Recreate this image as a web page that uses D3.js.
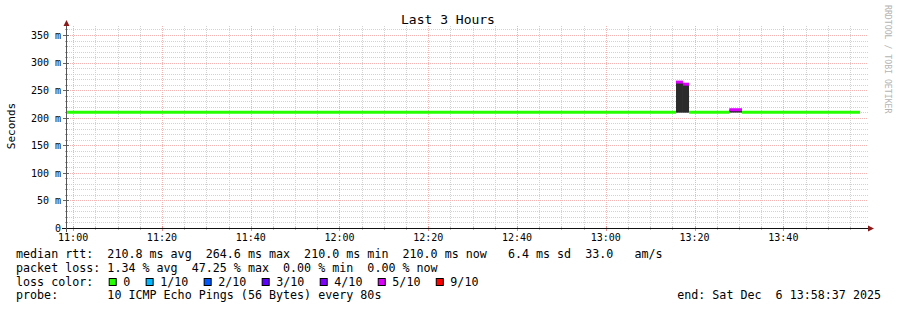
<!DOCTYPE html>
<html><head><meta charset="utf-8">
<script src="https://cdn.jsdelivr.net/npm/d3@7/dist/d3.min.js"></script>
<style>
html,body{margin:0;padding:0;background:#fff;}
svg{display:block;}
text{font-family:"DejaVu Sans Mono",monospace;white-space:pre;}
</style></head>
<body>
<script>
// ---- data ----
const title = "Last 3 Hours";
const yLabel = "Seconds";
const startTime = "2025-12-06T10:58:37";
const endTime = "2025-12-06T13:58:37";
const stepStart = ["10:58:37", "13:15:49", "13:17:23", "13:18:45", "13:27:49", "13:30:41"];
const stepEnd   = ["13:15:49", "13:17:23", "13:18:45", "13:27:49", "13:30:41", "13:57:16"];
const medianRtt = [210.0, 264.6, 260.8, 210.0, 214.5, 210.0];   // ms
const minRtt    = [210.0, 209.1, 209.1, 210.0, 209.3, 210.0];   // ms
const lossTenths = [0, 5, 5, 0, 5, 0];
const yTickValues = [0, 50, 100, 150, 200, 250, 300, 350];
const yTickLabels = ["0", "50 m", "100 m", "150 m", "200 m", "250 m", "300 m", "350 m"];
const xTickLabels = ["11:00", "11:20", "11:40", "12:00", "12:20", "12:40", "13:00", "13:20", "13:40"];
const lossLevels = [0, 1, 2, 3, 4, 5, 9];
const lossLabels = ["0", "1/10", "2/10", "3/10", "4/10", "5/10", "9/10"];
const lossColors = ["#26ff00", "#00b8ff", "#0059ff", "#5e00ff", "#7e00ff", "#dd00ff", "#ff0000"];
const legendLines = [
  "median rtt:  210.8 ms avg  264.6 ms max  210.0 ms min  210.0 ms now   6.4 ms sd  33.0   am/s",
  "packet loss: 1.34 % avg  47.25 % max  0.00 % min  0.00 % now",
  "loss color:",
  "probe:       10 ICMP Echo Pings (56 Bytes) every 80s"
];
const endLabel = "end: Sat Dec  6 13:58:37 2025";
const watermark = "RRDTOOL / TOBI OETIKER";

// ---- layout ----
const W = 897, H = 310;
const plot = {left: 67, right: 866, top: 28, bottom: 228};
const day = "2025-12-06T";
const parse = s => new Date(s.length > 8 ? s : day + s);

const svg = d3.select("body").append("svg").attr("width", W).attr("height", H);
svg.append("rect").attr("width", W).attr("height", H).attr("fill", "#fff");

const x = d3.scaleTime().domain([parse(startTime), parse(endTime)]).range([plot.left, plot.right]);
const yMax = 350 * (plot.bottom - plot.top) / 193;
const y = d3.scaleLinear().domain([0, yMax]).range([plot.bottom, plot.top]);

const minorCol = "#d2d2d2", majorCol = "#f4b4b4";
const grid = svg.append("g");
// horizontal minor grid (every 10 m)
const hMinor = d3.range(10, yMax, 10).filter(v => v % 50 !== 0);
grid.selectAll(".hmin").data(hMinor).join("line")
  .attr("x1", plot.left - 2).attr("x2", plot.right + 2)
  .attr("y1", d => Math.round(y(d)) + 0.5).attr("y2", d => Math.round(y(d)) + 0.5)
  .attr("stroke", minorCol).attr("stroke-dasharray", "1,1");
// vertical minor grid (every 5 min)
const vMinor = d3.timeMinute.every(5).range(parse(startTime), parse(endTime)).filter(d => d.getMinutes() % 20 !== 0);
grid.selectAll(".vmin").data(vMinor).join("line")
  .attr("x1", d => Math.round(x(d)) + 0.5).attr("x2", d => Math.round(x(d)) + 0.5)
  .attr("y1", plot.top - 2).attr("y2", plot.bottom + 2)
  .attr("stroke", minorCol).attr("stroke-dasharray", "1,1");
// major grid
const hMajor = yTickValues.filter(v => v > 0);
grid.selectAll(".hmaj").data(hMajor).join("line")
  .attr("x1", plot.left - 3).attr("x2", plot.right + 2)
  .attr("y1", d => Math.round(y(d)) + 0.5).attr("y2", d => Math.round(y(d)) + 0.5)
  .attr("stroke", majorCol).attr("stroke-dasharray", "1,1");
const vMajor = d3.timeMinute.every(20).range(parse(startTime), parse(endTime));
grid.selectAll(".vmaj").data(vMajor).join("line")
  .attr("x1", d => Math.round(x(d)) + 0.5).attr("x2", d => Math.round(x(d)) + 0.5)
  .attr("y1", plot.top - 2).attr("y2", plot.bottom + 3)
  .attr("stroke", majorCol).attr("stroke-dasharray", "1,1");

// ---- series ----
const steps = stepStart.map((s, i) => ({
  t0: parse(s), t1: parse(stepEnd[i]), med: medianRtt[i], min: minRtt[i], loss: lossTenths[i]
}));
const colorOf = l => lossColors[lossLevels.indexOf(l)];

// smoke
svg.append("g").selectAll("rect").data(steps.filter(d => d.loss > 0)).join("rect")
  .attr("x", d => x(d.t0)).attr("width", d => x(d.t1) - x(d.t0))
  .attr("y", d => y(d.med)).attr("height", d => y(d.min) - y(d.med))
  .attr("fill", "#2b2b2b");

// median line
const line = d3.line().x(p => x(p[0])).y(p => y(p[1]));
svg.append("g").selectAll("path").data(steps).join("path")
  .attr("d", d => line([[d.t0, d.med], [d.t1, d.med]]))
  .attr("stroke", d => colorOf(d.loss)).attr("stroke-width", 3).attr("fill", "none");

// ---- axes ----
const ax = svg.append("g");
ax.selectAll(".ytk").data(hMinor).join("line")
  .attr("x1", plot.left - 2).attr("x2", plot.left + 1)
  .attr("y1", d => Math.round(y(d)) + 0.5).attr("y2", d => Math.round(y(d)) + 0.5)
  .attr("stroke", "#aaa");
ax.selectAll(".ytkM").data(yTickValues).join("line")
  .attr("x1", plot.left - 4).attr("x2", plot.left + 2)
  .attr("y1", d => Math.round(y(d)) + 0.5).attr("y2", d => Math.round(y(d)) + 0.5)
  .attr("stroke", "#666");
ax.selectAll(".xtk").data(vMinor).join("line")
  .attr("x1", d => Math.round(x(d)) + 0.5).attr("x2", d => Math.round(x(d)) + 0.5)
  .attr("y1", plot.bottom - 1).attr("y2", plot.bottom + 2)
  .attr("stroke", "#bbb");
ax.selectAll(".xtkM").data(vMajor).join("line")
  .attr("x1", d => Math.round(x(d)) + 0.5).attr("x2", d => Math.round(x(d)) + 0.5)
  .attr("y1", plot.bottom - 2).attr("y2", plot.bottom + 3)
  .attr("stroke", "#e89090");
ax.append("line").attr("x1", plot.left - 5).attr("x2", plot.right + 2)
  .attr("y1", plot.bottom + 0.5).attr("y2", plot.bottom + 0.5).attr("stroke", "#111");
ax.append("line").attr("x1", plot.left - 0.5).attr("x2", plot.left - 0.5)
  .attr("y1", plot.bottom + 4).attr("y2", plot.top - 4).attr("stroke", "#555");
ax.append("path").attr("d", `M${plot.right + 2},${plot.bottom - 2.5}L${plot.right + 8},${plot.bottom + 0.5}L${plot.right + 2},${plot.bottom + 3.5}Z`).attr("fill", "#8b1a1a");
ax.append("path").attr("d", `M${plot.left - 3.5},${plot.top - 2}L${plot.left - 0.5},${plot.top - 8}L${plot.left + 2.5},${plot.top - 2}Z`).attr("fill", "#8b1a1a");

ax.selectAll(".ylab").data(yTickValues).join("text")
  .attr("x", 61).attr("y", d => y(d) + 3.8).attr("text-anchor", "end")
  .attr("font-size", "10px").attr("fill", "#000").text((d, i) => yTickLabels[i]);
ax.selectAll(".xlab").data(vMajor).join("text")
  .attr("x", d => x(d)).attr("y", 241).attr("text-anchor", "middle")
  .attr("font-size", "10px").attr("fill", "#000").text((d, i) => xTickLabels[i]);

svg.append("text").attr("x", 448).attr("y", 24).attr("text-anchor", "middle")
  .attr("font-size", "13px").attr("fill", "#000").text(title);
svg.append("text").attr("transform", "translate(15,126) rotate(-90)").attr("text-anchor", "middle")
  .attr("font-size", "11px").attr("fill", "#000").text(yLabel);
svg.append("text").attr("transform", "translate(884.5,5) rotate(90)")
  .attr("font-size", "8.2px").attr("fill", "#b4b4b4").text(watermark);

// legend
const lf = 11.68, cw = lf * 0.602;
const baseY = [258, 272, 286, 299];
legendLines.forEach((t, i) => {
  svg.append("text").attr("x", 16).attr("y", baseY[i]).attr("font-size", lf + "px").attr("fill", "#000").text(t);
});
svg.append("text").attr("x", 881).attr("y", baseY[3]).attr("text-anchor", "end")
  .attr("font-size", lf + "px").attr("fill", "#000").text(endLabel);
let bx = 108.7;
lossLabels.forEach((lab, i) => {
  svg.append("rect").attr("x", bx + 0.5).attr("y", 278.5).attr("width", 7).attr("height", 7)
    .attr("fill", lossColors[i]).attr("stroke", "#000").attr("stroke-width", 1);
  svg.append("text").attr("x", bx + 14.6).attr("y", baseY[2]).attr("font-size", lf + "px").attr("fill", "#000").text(lab);
  bx = bx + 14.6 + lab.length * cw + 15.3;
});
</script>
</body></html>
